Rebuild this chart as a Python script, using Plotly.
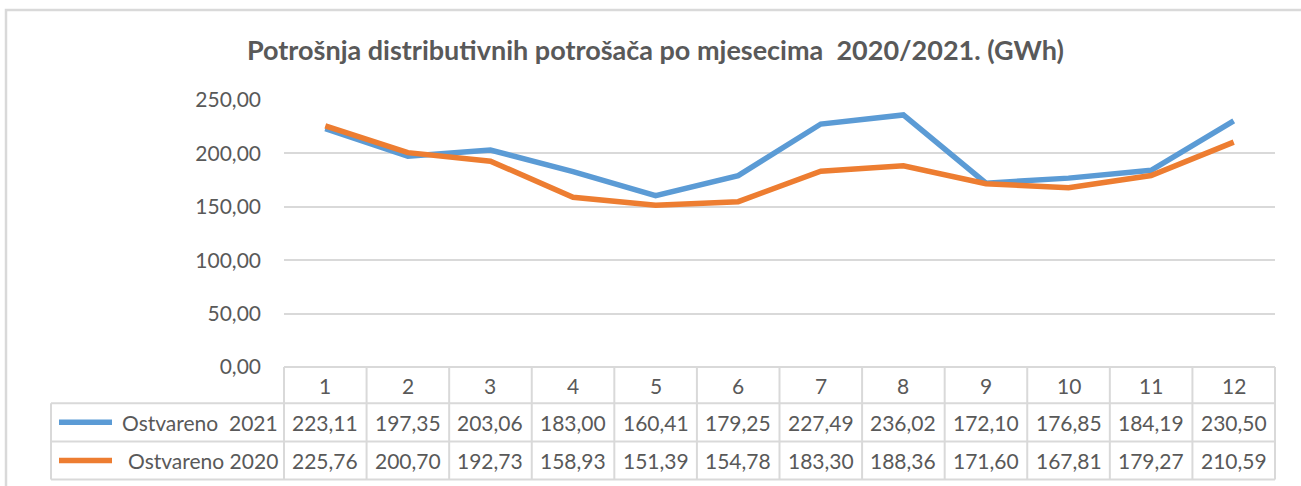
import plotly.graph_objects as go

months = [str(i) for i in range(1, 13)]
series_names = ["Ostvareno  2021", "Ostvareno 2020"]
values_2021 = [223.11, 197.35, 203.06, 183.00, 160.41, 179.25, 227.49, 236.02, 172.10, 176.85, 184.19, 230.50]
values_2020 = [225.76, 200.70, 192.73, 158.93, 151.39, 154.78, 183.30, 188.36, 171.60, 167.81, 179.27, 210.59]
y_ticks = [0, 50, 100, 150, 200, 250]
title = "Potrošnja distributivnih potrošača po mjesecima  2020/2021. (GWh)"

W, H = 1301, 486
L, R = 284, 1275
T, B = 100, 366.7
colors = ["#5B9BD5", "#ED7D31"]
grid = "#D9D9D9"
txt = "#595959"
FONT = "Lato"
FS = 21

def px(x):
    return (x - L) / (R - L)

def py(y):
    return (B - y) / (B - T)

xs = list(range(1, 13))
fig = go.Figure()
for name, vals, c in zip(series_names, [values_2021, values_2020], colors):
    fig.add_trace(go.Scatter(x=xs, y=vals, mode="lines", name=name,
                             line=dict(color=c, width=5.5), showlegend=False))

shapes = []
shapes.append(dict(type="rect", xref="paper", yref="paper", x0=px(6), x1=px(1330),
                   y0=py(520), y1=py(10), line=dict(color="#D9D9D9", width=2.5),
                   fillcolor="rgba(0,0,0,0)", layer="below"))
row_tops = [366.7, 403, 441, 479]
shapes.append(dict(type="line", xref="paper", yref="paper", x0=0, x1=1, y0=py(row_tops[0]), y1=py(row_tops[0]),
                   line=dict(color=grid, width=2)))
for r in row_tops[1:]:
    shapes.append(dict(type="line", xref="paper", yref="paper", x0=px(51), x1=1, y0=py(r), y1=py(r),
                       line=dict(color=grid, width=2)))
for i in range(13):
    xp = i / 12
    shapes.append(dict(type="line", xref="paper", yref="paper", x0=xp, x1=xp,
                       y0=py(row_tops[0]), y1=py(row_tops[3]), line=dict(color=grid, width=2)))
shapes.append(dict(type="line", xref="paper", yref="paper", x0=px(51), x1=px(51),
                   y0=py(row_tops[1]), y1=py(row_tops[3]), line=dict(color=grid, width=2)))
for k, c in enumerate(colors):
    yc = (row_tops[k + 1] + row_tops[k + 2]) / 2
    shapes.append(dict(type="line", xref="paper", yref="paper", x0=px(59), x1=px(112),
                       y0=py(yc), y1=py(yc), line=dict(color=c, width=5.5)))

annotations = []
annotations.append(dict(text=f"<b>{title}</b>", xref="paper", yref="paper", x=px(655), y=py(50),
                        showarrow=False, font=dict(family=FONT, size=27, color=txt),
                        xanchor="center", yanchor="middle"))
hdr_y = (row_tops[0] + row_tops[1]) / 2
for i, m in enumerate(months):
    annotations.append(dict(text=m, xref="x", yref="paper", x=xs[i], y=py(hdr_y), showarrow=False,
                            font=dict(family=FONT, size=FS, color=txt), yanchor="middle"))
for k, (name, vals) in enumerate(zip(series_names, [values_2021, values_2020])):
    yc = (row_tops[k + 1] + row_tops[k + 2]) / 2
    annotations.append(dict(text=name.replace("  ", "&nbsp; "), xref="paper", yref="paper", x=px(280), y=py(yc),
                            showarrow=False, xanchor="right", yanchor="middle",
                            font=dict(family=FONT, size=FS, color=txt)))
    for i, v in enumerate(vals):
        annotations.append(dict(text=f"{v:.2f}".replace(".", ","), xref="x", yref="paper", x=xs[i], y=py(yc),
                                showarrow=False, yanchor="middle",
                                font=dict(family=FONT, size=FS, color=txt)))

fig.update_layout(
    width=W, height=H,
    margin=dict(l=L, r=W - R, t=T, b=H - B, pad=0),
    paper_bgcolor="white", plot_bgcolor="white",
    separators=",.",
    font=dict(family=FONT, color=txt, size=FS),
    xaxis=dict(range=[0.5, 12.5], showticklabels=False, showgrid=False, zeroline=False,
               showline=False, ticks=""),
    yaxis=dict(range=[0, 250], tickvals=y_ticks, tickformat=".2f", showgrid=True,
               gridcolor=grid, gridwidth=2, zeroline=False, showline=False, ticks="",
               ticklen=0, ticklabelstandoff=22, tickfont=dict(family=FONT, size=FS, color=txt)),
    shapes=shapes, annotations=annotations,
)
fig.write_html("out.html", config={"displayModeBar": False},
               post_script="document.body.style.margin='0px';")
